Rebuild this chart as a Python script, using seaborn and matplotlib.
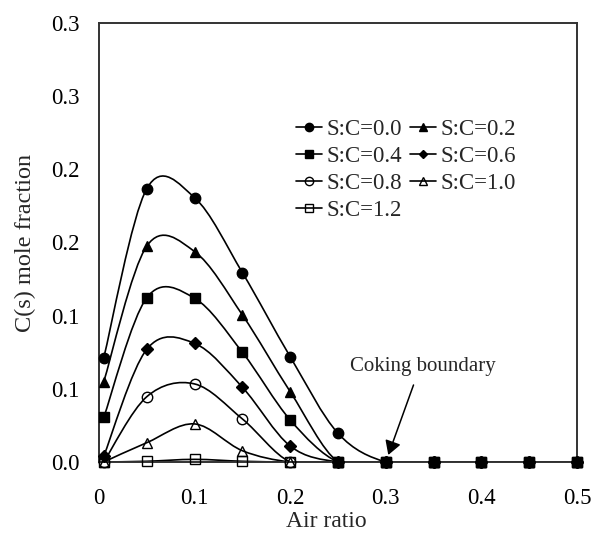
import numpy as np
import pandas as pd
import seaborn as sns
import matplotlib
matplotlib.use("Agg")
import matplotlib.pyplot as plt
from matplotlib.path import Path
from matplotlib.patches import PathPatch
from matplotlib.lines import Line2D

# ---------------- data ----------------
air_ratio = [0.005, 0.05, 0.1, 0.15, 0.2, 0.25, 0.3, 0.35, 0.4, 0.45, 0.5]
sc_00 = [0.0713, 0.1867, 0.1805, 0.1293, 0.0719, 0.0196, 0, 0, 0, 0, 0]
sc_02 = [0.0549, 0.1475, 0.1437, 0.1004, 0.0480, 0, 0, 0, 0, 0, 0]
sc_04 = [0.0305, 0.1122, 0.1118, 0.0749, 0.0287, 0, 0, 0, 0, 0, 0]
sc_06 = [0.0040, 0.0770, 0.0810, 0.0510, 0.0109, 0, 0, 0, 0, 0, 0]
sc_08 = [0.0, 0.0446, 0.0533, 0.0294, 0.0, 0, 0, 0, 0, 0, 0]
sc_10 = [0.0, 0.0132, 0.0260, 0.0077, 0.0, 0, 0, 0, 0, 0, 0]
sc_12 = [0.0, 0.0005, 0.0018, 0.0005, 0.0, 0, 0, 0, 0, 0, 0]
series_labels = ["S:C=0.0", "S:C=0.2", "S:C=0.4", "S:C=0.6", "S:C=0.8", "S:C=1.0", "S:C=1.2"]
series_values = [sc_00, sc_02, sc_04, sc_06, sc_08, sc_10, sc_12]
y_ticks = [0.0, 0.05, 0.1, 0.15, 0.2, 0.25, 0.3]
y_tick_labels = ["0.0", "0.1", "0.1", "0.2", "0.2", "0.3", "0.3"]
x_ticks = [0.0, 0.1, 0.2, 0.3, 0.4, 0.5]
x_tick_labels = ["0", "0.1", "0.2", "0.3", "0.4", "0.5"]

# ---------------- style ----------------
sns.set_style("white")
plt.rcParams["font.family"] = ["Liberation Serif", "DejaVu Serif"]
FS = 16.5

markers = ["o", "^", "s", "D", "o", "^", "s"]
filled = [True, True, True, True, False, False, False]
msizes = [7.5, 7.5, 7.5, 6.0, 7.5, 7.5, 7.5]

fig = plt.figure(figsize=(5.93, 5.38), dpi=100)
ax = fig.add_axes([99 / 593, 1 - 462 / 538, (577 - 99) / 593, (462 - 22.7) / 538])


def smooth_path(x, y):
    pts = np.column_stack([x, y]).astype(float)
    n = len(pts)
    verts = [pts[0]]
    codes = [Path.MOVETO]
    for i in range(n - 1):
        p0 = pts[i - 1] if i > 0 else pts[i]
        p1 = pts[i]
        p2 = pts[i + 1]
        p3 = pts[i + 2] if i + 2 < n else pts[i + 1]
        c1 = p1 + (p2 - p0) / 6.0
        c2 = p2 - (p3 - p1) / 6.0
        verts += [c1, c2, p2]
        codes += [Path.CURVE4] * 3
    return Path(verts, codes)


handles = {}
for lab, vals, m, f, ms in zip(series_labels, series_values, markers, filled, msizes):
    df = pd.DataFrame({"air": air_ratio, "c": vals})
    ax.add_patch(PathPatch(smooth_path(df["air"], df["c"]), facecolor="none",
                           edgecolor="black", lw=1.2, zorder=2))
    sns.lineplot(data=df, x="air", y="c", ax=ax, marker=m, linestyle="",
                 markersize=ms, color="black",
                 markerfacecolor="black" if f else "none",
                 markeredgecolor="black", markeredgewidth=1.0,
                 clip_on=False, zorder=3, legend=False)
    handles[lab] = Line2D([], [], color="black", lw=1.2, marker=m, markersize=ms - 1.5,
                          markerfacecolor="black" if f else "none",
                          markeredgecolor="black", markeredgewidth=1.0, label=lab)

ax.set_xlim(0, 0.5)
ax.set_ylim(0, 0.3)
ax.set_xticks(x_ticks)
ax.set_xticklabels(x_tick_labels)
ax.set_yticks(y_ticks)
ax.set_yticklabels(y_tick_labels)
ax.tick_params(direction="in", length=5.5, width=1.2, colors="black", labelsize=FS)
ax.tick_params(axis="y", pad=14)
ax.tick_params(axis="x", pad=19)
for sp in ax.spines.values():
    sp.set_color("#333333")
    sp.set_linewidth(1.4)

ax.set_xlabel("Air ratio", fontsize=17)
ax.set_ylabel("C(s) mole fraction", fontsize=17.5)
ax.xaxis.set_label_coords((326 - 99) / 478, (462 - 527) / 439.3)
ax.xaxis.label.set_va("baseline")
ax.yaxis.set_label_coords((25 - 99) / 478, (462 - 332) / 439.3)
ax.yaxis.label.set_va("center")
ax.yaxis.label.set_ha("left")

# row-wise legend order (matplotlib fills columns first)
order = ["S:C=0.0", "S:C=0.4", "S:C=0.8", "S:C=1.2", "S:C=0.2", "S:C=0.6", "S:C=1.0"]
leg = ax.legend(handles=[handles[k] for k in order], ncol=2, loc="upper left",
                bbox_to_anchor=(296 / 593, 1 - 119 / 538), bbox_transform=fig.transFigure,
                frameon=False, fontsize=FS, handlelength=1.15, handletextpad=0.18,
                columnspacing=0.35, labelspacing=0.26, borderpad=0, borderaxespad=0)

ax.text(0.263, 0.065, "Coking boundary", fontsize=15, ha="left", va="center")
ax.annotate("", xy=(0.3026, 0.0048), xytext=(0.329, 0.0526),
            arrowprops=dict(arrowstyle="-|>,head_length=0.6,head_width=0.35",
                            color="black", lw=1.1, mutation_scale=14,
                            shrinkA=0, shrinkB=0), zorder=4)

fig.savefig("out.png", dpi=100)
